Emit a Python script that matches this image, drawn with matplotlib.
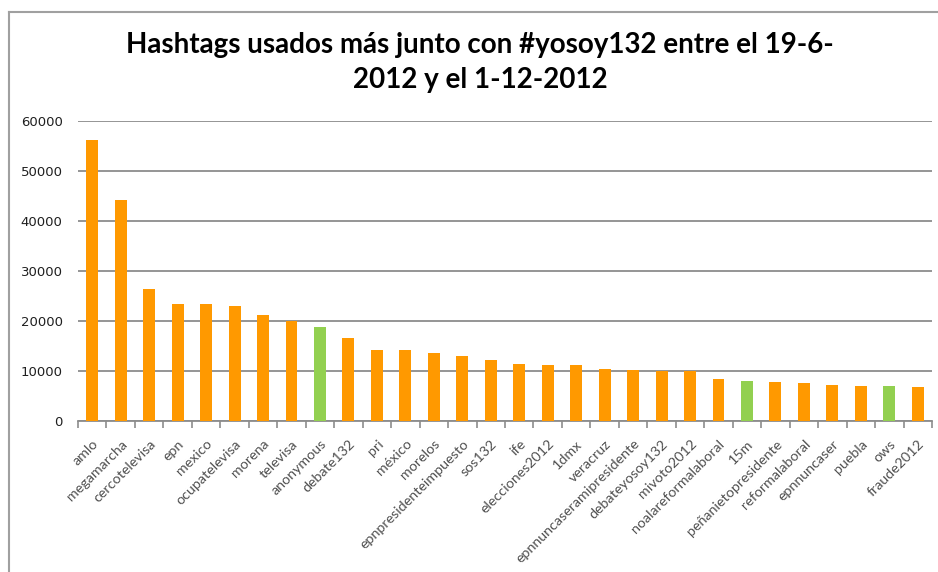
import numpy as np
import matplotlib.pyplot as plt
from matplotlib.lines import Line2D

hashtags = ["amlo", "megamarcha", "cercotelevisa", "epn", "mexico", "ocupatelevisa",
            "morena", "televisa", "anonymous", "debate132", "pri", "méxico", "morelos",
            "epnpresidenteimpuesto", "sos132", "ife", "elecciones2012", "1dmx", "veracruz",
            "epnnuncaseramipresidente", "debateyosoy132", "mivoto2012",
            "noalareformalaboral", "15m", "peñanietopresidente", "reformalaboral",
            "epnnuncaser", "puebla", "ows", "fraude2012"]
counts = [56300, 44300, 26500, 23500, 23500, 23000, 21200, 20000, 18900, 16600,
          14300, 14300, 13700, 13000, 12300, 11500, 11200, 11200, 10500, 10200,
          10000, 9950, 8400, 8100, 7900, 7600, 7300, 7100, 7100, 6900]
# tags highlighted in green in the original
highlighted = ["anonymous", "15m", "ows"]

ORANGE = "#FF9900"
GREEN = "#92D050"
FONT = "Lato"

fig = plt.figure(figsize=(9.38, 5.72), dpi=100)
ax = fig.add_axes([78 / 938, 1 - 421 / 572, (932 - 78) / 938, 300 / 572])

x = np.arange(len(hashtags))
colors = [GREEN if h in highlighted else ORANGE for h in hashtags]
ax.bar(x, counts, width=0.42, color=colors, zorder=3)

ax.set_xlim(-0.5, len(hashtags) - 0.5)
ax.set_ylim(0, 60000)
ax.set_yticks(np.arange(0, 60001, 10000))
ax.yaxis.grid(True, color="#8C8C8C", lw=1.3, zorder=0)
for s in ["top", "right", "left"]:
    ax.spines[s].set_visible(False)
ax.spines["bottom"].set_color("#8C8C8C")
ax.spines["bottom"].set_linewidth(1.3)
ax.tick_params(axis="y", length=0, pad=11, labelsize=9.5, labelcolor="#1F1F1F")
for lab in ax.get_yticklabels():
    lab.set_fontfamily("DejaVu Sans")

# boundary ticks between categories
ax.set_xticks(np.arange(-0.5, len(hashtags), 1.0), minor=True)
ax.tick_params(axis="x", which="minor", length=5, color="#8C8C8C", width=1.2)
ax.set_xticks(x)
ax.set_xticklabels(hashtags, rotation=45, ha="right", rotation_mode="anchor",
                   fontsize=10.3, color="#505050", fontfamily=FONT)
ax.tick_params(axis="x", which="major", length=0, pad=12)

fig.text(0.512, 1 - 45 / 572, "Hashtags usados más junto con #yosoy132 entre el 19-6-",
         ha="center", va="center", fontsize=20, fontweight="bold", fontfamily=FONT)
fig.text(0.512, 1 - 80 / 572, "2012 y el 1-12-2012",
         ha="center", va="center", fontsize=20, fontweight="bold", fontfamily=FONT)

# chart frame (left and top edges visible in the crop)
fig.add_artist(Line2D([9 / 938, 9 / 938], [0, 1 - 12 / 572], transform=fig.transFigure,
                      color="#A0A0A0", lw=1.5))
fig.add_artist(Line2D([9 / 938, 1], [1 - 12 / 572, 1 - 12 / 572], transform=fig.transFigure,
                      color="#A0A0A0", lw=1.5))

fig.savefig("out.png", dpi=100)
